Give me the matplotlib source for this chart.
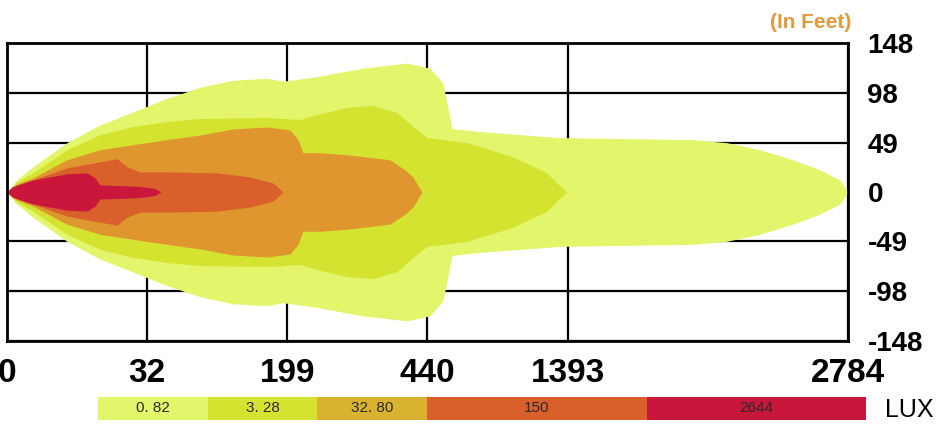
import matplotlib
matplotlib.use("Agg")
import matplotlib.pyplot as plt

# distance labels (feet) under the grid columns -- the grid is not to scale
dist_labels = ["0", "32", "199", "440", "1393", "2784"]
dist_pos = [0, 1, 2, 3, 4, 6]
width_ticks = [148, 98, 49, 0, -49, -98, -148]

lux_labels = ["0. 82", "3. 28", "32. 80", "150", "2644"]
lux_colors = ["#e3f56b", "#d4e32f", "#d9b32f", "#d9602b", "#c8173a"]
beam_colors = ["#e3f56b", "#d4e32f", "#e0962f", "#d9602b", "#c8173a"]

# half width (feet) of each isolux zone along the beam (x in grid columns)
zone1_x = [0, 0.07, 0.185, 0.428, 0.663, 0.899, 1.141, 1.377, 1.612, 1.855, 1.969,
           2.183, 2.539, 2.853, 3.017, 3.110, 3.146, 3.174, 3.374, 3.944, 4.893,
           5.135, 5.371, 5.606, 5.799, 5.941, 6.0]
zone1_h = [0, 12, 25, 49, 66.5, 79.5, 93, 104, 111, 113, 110,
           114, 123, 128, 123, 108, 84, 63, 60, 54, 52,
           49, 42, 32, 22, 12, 0]

zone2_x = [0, 0.07, 0.185, 0.428, 0.663, 0.899, 1.141, 1.377, 1.855, 2.090, 2.183,
           2.425, 2.611, 2.782, 2.896, 2.996, 3.281, 3.609, 3.852, 3.923, 3.994]
zone2_h = [0, 10, 19, 42, 57, 65, 70, 73, 74, 72, 76,
           84, 86, 79, 65, 54, 49, 35, 19, 9, 0]

zone3_x = [0, 0.07, 0.185, 0.428, 0.663, 0.899, 1.141, 1.377, 1.612, 1.855, 2.019,
           2.076, 2.111, 2.233, 2.425, 2.732, 2.839, 2.896, 2.960]
zone3_h = [0, 8, 14, 32, 42, 47, 52, 56.6, 62.6, 64.6, 61.6,
           52, 39, 39, 37, 32, 22, 15, 0]

zone4_x = [0, 0.07, 0.185, 0.428, 0.663, 0.785, 0.856, 0.949, 1.141, 1.498, 1.733, 1.897, 1.969]
zone4_h = [0, 7, 12, 24, 30, 33, 25, 20, 20, 19, 15, 9, 0]

zone5_x = [0, 0.036, 0.185, 0.428, 0.571, 0.628, 0.663, 0.785, 0.949, 1.056, 1.098]
zone5_h = [0, 5, 12, 18, 19, 14, 7, 6.5, 5.5, 3.5, 0]

zones = [(zone1_x, zone1_h), (zone2_x, zone2_h), (zone3_x, zone3_h),
         (zone4_x, zone4_h), (zone5_x, zone5_h)]

sans = ["Liberation Sans", "DejaVu Sans"]

fig = plt.figure(figsize=(9.44, 4.36), dpi=100)
ax = fig.add_axes([0.0074, 0.2179, 0.8909, 0.6835])

for (zx, zh), c in zip(zones, beam_colors):
    ax.fill_between(zx, [-v for v in zh], zh, color=c, lw=0, zorder=2)

ax.set_xlim(0, 6)
ax.set_ylim(-148, 148)
ax.set_xticks(dist_pos)
ax.set_xticklabels(dist_labels)
ax.set_yticks(width_ticks)
ax.set_yticklabels([str(v) for v in width_ticks])
ax.yaxis.tick_right()
ax.grid(True, color="black", lw=1.6)
ax.set_axisbelow(True)
ax.tick_params(length=0)
ax.tick_params(axis="x", pad=12)
ax.tick_params(axis="y", pad=14)
for lab in ax.get_xticklabels():
    lab.set_family(sans)
    lab.set_fontweight("bold")
    lab.set_fontsize(24)
for lab in ax.get_yticklabels():
    lab.set_family(sans)
    lab.set_fontweight("bold")
    lab.set_fontsize(20)
for s in ax.spines.values():
    s.set_linewidth(2)

fig.text(0.9015, 0.9495, "(In Feet)", color="#e39a3e", fontsize=15,
         fontweight="bold", family=sans, ha="right", va="center")

# lux legend strip
spans = [1, 1, 1, 2, 2]
lax = fig.add_axes([0.1038, 0.0367, 0.8136, 0.0528])
left = 0
for lab, c, w in zip(lux_labels, lux_colors, spans):
    lax.barh(0, w, left=left, height=1, color=c, lw=0)
    lax.text(left + w / 2, 0, lab, ha="center", va="center", fontsize=11,
             color="#2a2a2a", family=sans)
    left += w
lax.set_xlim(0, left)
lax.set_ylim(-0.5, 0.5)
lax.axis("off")

fig.text(885 / 944, 1 - 410 / 436, "LUX", fontsize=18, family=sans,
         ha="left", va="center")

plt.savefig("out.png")
